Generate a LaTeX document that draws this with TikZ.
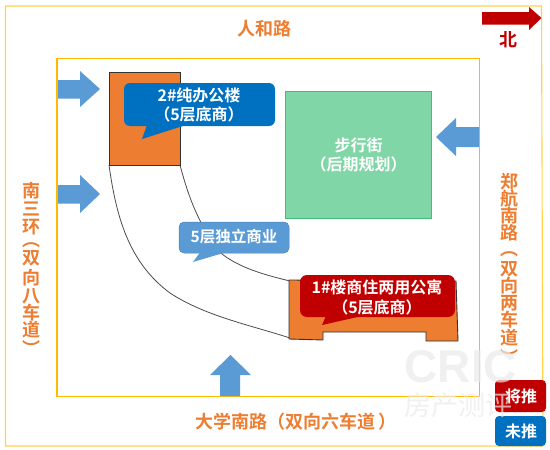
\documentclass[tikz,border=0pt]{standalone}
\usepackage{fontspec}
\setmainfont{Noto Sans CJK SC}[BoldFont={Noto Sans CJK SC Bold}]
\newfontfamily\wmfont{Liberation Sans}[BoldFont={Liberation Sans Bold}]
\definecolor{roadc}{HTML}{ED7D31}
\definecolor{frame}{HTML}{FFC000}
\definecolor{arrowb}{HTML}{5B9BD5}
\definecolor{redc}{HTML}{C00000}
\definecolor{blue2}{HTML}{0070C0}
\definecolor{greenf}{HTML}{80D6A6}
\definecolor{greend}{HTML}{42BE78}
\lineskiplimit=-100pt
\normallineskiplimit=-100pt
\tikzset{
 roadlabel/.style={text=roadc,font=\bfseries\fontsize{18}{18}\selectfont,inner sep=0pt},
 vlabel/.style={text=roadc,font=\bfseries\fontsize{18}{17}\selectfont,inner sep=0pt,align=center,anchor=north},
 bluearrow/.style={fill=arrowb,draw=none},
 calltext/.style={text=white,font=\bfseries\fontsize{16}{19.5}\selectfont,align=center,inner sep=0pt},
 bldg/.style={fill=roadc,draw=black!80,line width=0.9pt},
 curveline/.style={draw=black!70,line width=0.8pt},
 legend/.style={rounded corners=4pt,draw=none},
 legendtext/.style={text=white,font=\bfseries\fontsize{16}{16}\selectfont,inner sep=0pt},
}
\begin{document}
\begin{tikzpicture}[x=1pt,y=-1pt]
\useasboundingbox (0,0) rectangle (550,450);
\fill[white] (0,0) rectangle (550,450);
% frames
\draw[frame!70,line width=1.1pt] (5.5,6) -- (541.5,6) -- (543,446) -- (5.5,446) -- cycle;
\draw[frame!90!orange,line width=1.1pt] (57,58.5) rectangle (479.5,396.5);
% arrows
\fill[bluearrow] (58,80) -- (80,80) -- (80,71) -- (100,89) -- (80,107) -- (80,98.5) -- (58,98.5) -- cycle;
\fill[bluearrow] (58,185) -- (80,185) -- (80,175) -- (100,194) -- (80,213) -- (80,203.5) -- (58,203.5) -- cycle;
\fill[bluearrow] (479,127) -- (456,127) -- (456,118) -- (436,137) -- (456,156) -- (456,147) -- (479,147) -- cycle;
\fill[bluearrow] (220,396) -- (220,375) -- (210,375) -- (230.5,355) -- (251,375) -- (240,375) -- (240,396) -- cycle;
% north
\fill[redc] (482,12) -- (529,12) -- (529,7) -- (541.5,18) -- (529,30) -- (529,24.5) -- (482,24.5) -- cycle;
\node[text=redc,font=\bfseries\fontsize{18}{18}\selectfont,inner sep=0pt] (north) at (508,40) {北};
% road labels
\node[roadlabel] (rhl) at (264,29) {人和路};
\node[roadlabel] (dxn) at (296,422) {大学南路（双向六车道\kern3pt）};
\node[vlabel] (ln) at (32,182) {南\\[1pt]三\\[1pt]环\\[-4pt]︵\\[1pt]双\\[3pt]向\\[1pt]八\\车\\道\\[2pt]︶};
\node[vlabel] (rn) at (509,173) {郑\\航\\南\\路\\[-1pt]︵\\[3pt]双\\向\\两\\车\\[1pt]道\\[3pt]︶};
% green block
\node[fill=greenf,draw=greend,line width=1pt,minimum width=146pt,minimum height=127pt,inner sep=0pt,anchor=north west,
  text=white,font=\bfseries\fontsize{16}{19}\selectfont,align=center] (green) at (285,91) {步行街\\（后期规划）};
% curves
\draw[curveline] (109,165) .. controls (116,215) and (128,262) .. (170,293) .. controls (205,316) and (250,325) .. (290,338);
\draw[curveline] (180,165) .. controls (188,195) and (198,225) .. (222,254) .. controls (240,268) and (265,275) .. (290,281);
% buildings
\draw[bldg] (109,72) rectangle (180,165);
\draw[bldg] (289,280) -- (456,281) -- (458,341) -- (426,341) -- (426,332) -- (323,332) -- (323,340) -- (289,339) -- cycle;
% callouts
\fill[blue2,rounded corners=6pt] (124,83) rectangle (275,126);
\fill[blue2] (147,125) -- (142,139) -- (186,125) -- cycle;
\node[calltext] (c2) at (199,105) {2\#纯办公楼\\（5层底商）};
\fill[arrowb,draw=arrowb!85!black,line width=0.5pt,rounded corners=5pt] (179,222) rectangle (289,253);
\fill[arrowb] (200,252.5) -- (193,262) -- (225,252.5) -- cycle;
\node[text=white,font=\bfseries\fontsize{15.5}{15.5}\selectfont,inner sep=0pt] (c5) at (234,237) {5层独立商业};
\fill[redc,rounded corners=7pt] (300,275) rectangle (455,317);
\fill[redc] (326,316) -- (322,325) -- (362,316) -- cycle;
\node[calltext,font=\bfseries\fontsize{16}{20}\selectfont] (c1) at (377,297) {1\#楼商住两用公寓\\（5层底商）};
% legend
\fill[redc,legend] (495,380) rectangle (546,412);
\node[legendtext] (l1) at (521,396) {将推};
\fill[blue2,legend] (495,416) rectangle (546,446);
\node[legendtext] (l2) at (521,431) {未推};
% watermark
\node[text=black!8,opacity=.7,font=\wmfont\bfseries\fontsize{46}{46}\selectfont,inner sep=0pt] (wm1) at (461,367) {CRIC};
\node[text=black!8,opacity=.7,font=\fontsize{27}{27}\selectfont,inner sep=0pt] (wm2) at (458,405) {房产测评};
\end{tikzpicture}
\end{document}
